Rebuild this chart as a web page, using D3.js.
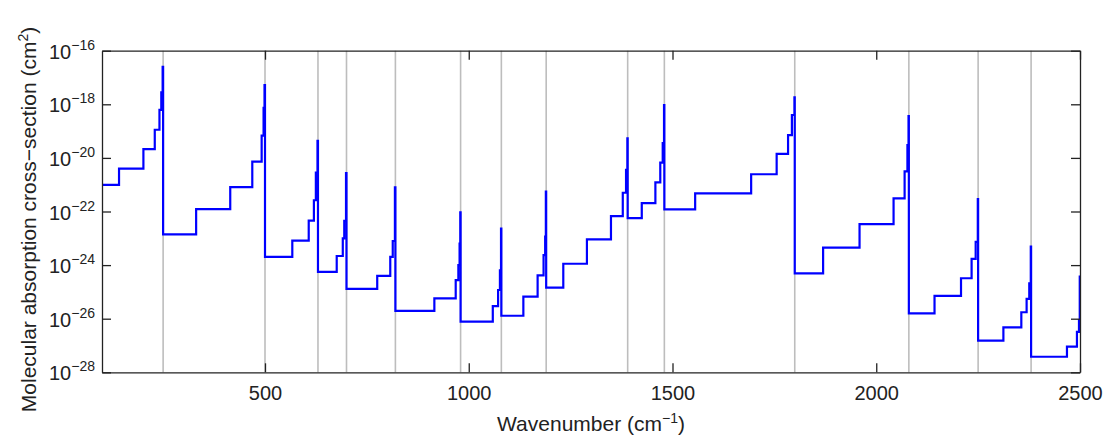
<!DOCTYPE html>
<html>
<head>
<meta charset="utf-8">
<script src="https://cdn.jsdelivr.net/npm/d3@7"></script>
<style>
  body { margin: 0; background: #fff; }
  text { font-family: "Liberation Sans", Arial, Helvetica, sans-serif; fill: #222; }
</style>
</head>
<body>
<svg id="chart" width="1106" height="437"></svg>
<script>
// Spectral band boundaries (cm^-1) drawn as grey vertical lines
const bandEdges = [250, 500, 630, 700, 820, 980, 1080, 1190, 1390, 1480, 1800, 2080, 2250, 2380];

// Start wavenumber of each g-point step within each band (cm^-1)
const stepStarts = [
  [100, 141.8, 201.6, 229.5, 241, 245.5, 248.8],
  [250, 331, 414.7, 468.8, 491.8, 496.5, 498.8],
  [500, 567, 607.3, 620, 624.8, 628.8],
  [630, 676, 690.9, 694.5, 698.8],
  [700, 775.4, 807.4, 813.5, 818.8],
  [820, 915.6, 968, 974.5, 977.5, 979.2],
  [980, 1059, 1072, 1076.5, 1079.2],
  [1080, 1134, 1169, 1183.6, 1187.5, 1189.2],
  [1190, 1232, 1290, 1349, 1378, 1386, 1389.2],
  [1390, 1424.6, 1458, 1470, 1476, 1479.2],
  [1480, 1555.6, 1693, 1755.6, 1783.6, 1793, 1799.2],
  [1800, 1869.6, 1959, 2042.5, 2069.6, 2076.5, 2079.2],
  [2080, 2143, 2208, 2234, 2244, 2249.2],
  [2250, 2312, 2356, 2369, 2375.5, 2379.2],
  [2380, 2468, 2492.5, 2497.5, 2499.4]
];

// log10 of the absorption cross-section (cm^2) for each step above
const stepLog10Sigma = [
  [-21.01, -20.40, -19.67, -18.95, -18.21, -17.55, -16.60],
  [-22.85, -21.91, -21.09, -20.14, -19.17, -18.13, -17.28],
  [-23.69, -23.09, -22.34, -21.58, -20.55, -19.36],
  [-24.25, -23.66, -23.00, -22.35, -20.57],
  [-24.89, -24.40, -23.69, -23.10, -21.10],
  [-25.71, -25.24, -24.56, -24.00, -23.20, -22.03],
  [-26.11, -25.53, -24.93, -24.20, -22.64],
  [-25.89, -25.18, -24.38, -23.63, -22.94, -21.26],
  [-24.84, -23.95, -23.04, -22.17, -21.30, -20.45, -19.27],
  [-22.25, -21.69, -20.91, -20.18, -19.45, -18.03],
  [-21.92, -21.32, -20.61, -19.85, -19.15, -18.40, -17.74],
  [-24.31, -23.35, -22.47, -21.51, -20.50, -19.52, -18.44],
  [-25.80, -25.15, -24.49, -23.77, -23.13, -21.54],
  [-26.82, -26.32, -25.76, -25.26, -24.68, -23.31],
  [-27.42, -27.04, -26.49, -26.05, -24.43]
];

const xDomain = [100, 2500];
const xTicks = [500, 1000, 1500, 2000, 2500];
const yTickExponents = [-16, -18, -20, -22, -24, -26, -28];

(function draw() {
  const svg = d3.select("#chart");
  const plotLeft = 102, plotRight = 1080, plotTop = 50.7, plotBottom = 372.3;

  const x = d3.scaleLinear().domain(xDomain).range([plotLeft, plotRight]);
  const y = d3.scaleLog().domain([1e-28, 1e-16]).range([plotBottom, plotTop]);

  // Flatten the per-band steps into one step series
  const points = [];
  stepStarts.forEach((starts, i) => {
    starts.forEach((wn, j) => points.push({ wn, sigma: Math.pow(10, stepLog10Sigma[i][j]) }));
  });
  const lastBand = stepLog10Sigma[stepLog10Sigma.length - 1];
  points.push({ wn: xDomain[1], sigma: Math.pow(10, lastBand[lastBand.length - 1]) });

  svg.append("defs").append("clipPath").attr("id", "plot-clip")
    .append("rect").attr("x", plotLeft).attr("y", plotTop)
    .attr("width", plotRight - plotLeft).attr("height", plotBottom - plotTop);

  // Band boundary lines
  svg.append("g").selectAll("line").data(bandEdges).join("line")
    .attr("x1", d => x(d)).attr("x2", d => x(d))
    .attr("y1", plotTop).attr("y2", plotBottom)
    .attr("stroke", "#bdbdbd").attr("stroke-width", 1.6);

  // Cross-section staircase
  const line = d3.line().x(d => x(d.wn)).y(d => y(d.sigma)).curve(d3.curveStepAfter);
  svg.append("path").datum(points)
    .attr("clip-path", "url(#plot-clip)")
    .attr("d", line)
    .attr("fill", "none").attr("stroke", "#0000ff").attr("stroke-width", 2.2)
    .attr("stroke-linejoin", "miter");

  // Axes with inward ticks on all four sides
  const tickLen = 9;
  const yTickValues = yTickExponents.map(e => Math.pow(10, e));

  const xb = svg.append("g").attr("transform", `translate(0,${plotBottom})`)
    .call(d3.axisBottom(x).tickValues(xTicks).tickSize(-tickLen).tickSizeOuter(0).tickPadding(14).tickFormat(d3.format("d")));
  const xt = svg.append("g").attr("transform", `translate(0,${plotTop})`)
    .call(d3.axisTop(x).tickValues(xTicks).tickSize(-tickLen).tickSizeOuter(0).tickFormat(""));
  const yl = svg.append("g").attr("transform", `translate(${plotLeft},0)`)
    .call(d3.axisLeft(y).tickValues(yTickValues).tickSize(-tickLen).tickSizeOuter(0).tickFormat(""));
  const yr = svg.append("g").attr("transform", `translate(${plotRight},0)`)
    .call(d3.axisRight(y).tickValues(yTickValues).tickSize(-tickLen).tickSizeOuter(0).tickFormat(""));

  [xb, xt, yl, yr].forEach(g => {
    g.selectAll("path.domain").attr("stroke", "#222").attr("stroke-width", 1.3);
    g.selectAll(".tick line").attr("stroke", "#222").attr("stroke-width", 1.3);
  });
  xb.selectAll(".tick text")
    .attr("font-size", 20).attr("fill", "#222")
    .style("font-family", '"Liberation Sans", Arial, sans-serif')
    .attr("dy", "0.71em");

  // Power-of-ten labels on the y axis
  const yLab = svg.append("g");
  yTickExponents.forEach(e => {
    const t = yLab.append("text")
      .attr("x", plotLeft - 7).attr("y", y(Math.pow(10, e)) + 8)
      .attr("text-anchor", "end").attr("font-size", 20);
    t.append("tspan").text("10");
    t.append("tspan").attr("dy", -9).attr("font-size", 14).text("\u2212" + Math.abs(e));
  });

  // Axis titles
  const xTitle = svg.append("text")
    .attr("x", (plotLeft + plotRight) / 2).attr("y", 431)
    .attr("text-anchor", "middle").attr("font-size", 21);
  xTitle.append("tspan").text("Wavenumber (cm");
  xTitle.append("tspan").attr("dy", -8).attr("font-size", 14).text("\u22121");
  xTitle.append("tspan").attr("dy", 8).text(")");

  const yTitle = svg.append("text")
    .attr("transform", `translate(36,${(plotTop + plotBottom) / 2 + 8}) rotate(-90)`)
    .attr("text-anchor", "middle").attr("font-size", 21);
  yTitle.append("tspan").text("Molecular absorption cross\u2212section (cm");
  yTitle.append("tspan").attr("dy", -8).attr("font-size", 14).text("2");
  yTitle.append("tspan").attr("dy", 8).text(")");
})();
</script>
</body>
</html>
